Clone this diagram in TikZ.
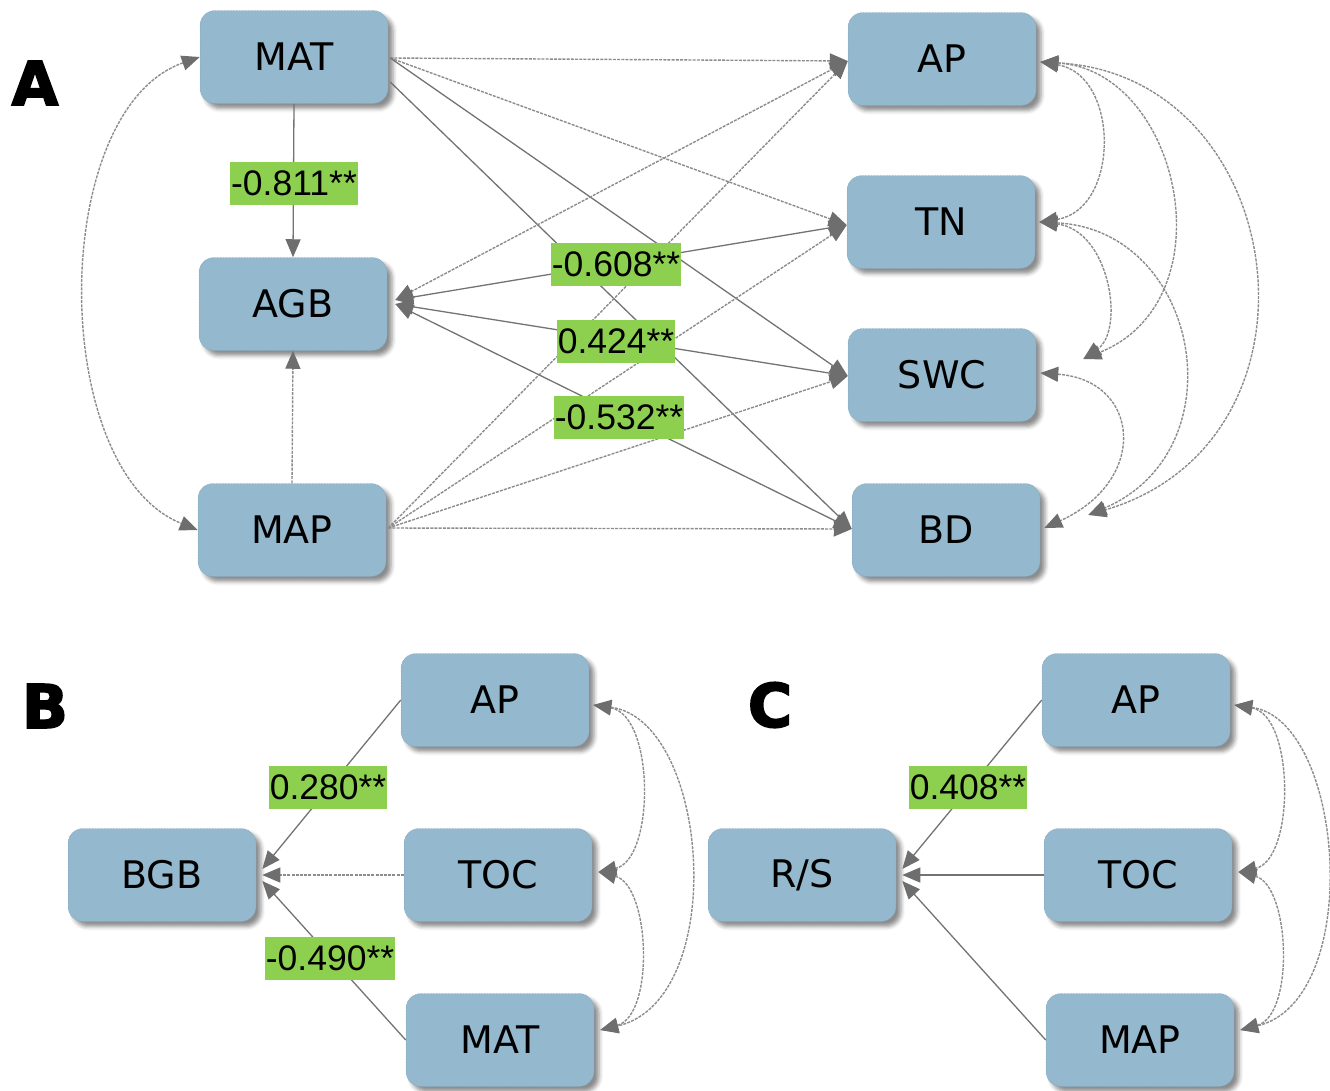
\documentclass[tikz,border=0pt]{standalone}
\usepackage{fontspec}
\setmainfont{DejaVu Sans}
\newfontfamily\lblfont{Liberation Sans}
\newfontfamily\heavyfont[FakeBold=3]{DejaVu Sans Bold}
\usetikzlibrary{arrows.meta,shadows.blur,calc}
\definecolor{boxc}{RGB}{148,184,205}
\definecolor{boxd}{RGB}{120,155,178}
\definecolor{grn}{RGB}{141,208,80}
\definecolor{lnc}{RGB}{115,115,115}
\definecolor{dlc}{RGB}{140,140,140}
\definecolor{tipc}{RGB}{110,110,110}
\tikzset{
  box/.style={rounded corners=15pt, fill=boxc, draw=boxd, densely dotted, line width=0.5pt,
    minimum width=188pt, minimum height=93pt, inner sep=0pt,
    font=\fontsize{38}{42}\selectfont,
    blur shadow={shadow xshift=5pt, shadow yshift=-5pt, shadow blur radius=4pt, shadow opacity=45}},
  lbl/.style={fill=grn, font=\lblfont\fontsize{35.5}{38}\selectfont, inner xsep=1pt, inner ysep=0pt, minimum height=43pt},
  panel/.style={font=\heavyfont\fontsize{60}{60}\selectfont, inner sep=0pt},
  sl/.style={draw=lnc, line width=1.3pt},
  dl/.style={draw=dlc, line width=1.4pt, dash pattern=on 3pt off 1.2pt},
  >={Triangle[length=18pt,width=15pt,color=tipc]}
}
\begin{document}
\begin{tikzpicture}[x=1pt,y=-1pt]
\useasboundingbox (0,0) rectangle (1330,1090);
% ---------------- Panel A ----------------
\node[panel] (LA) at (35,83) {A};
\node[box] (MAT) at (294,57) {MAT};
\node[box] (AGB) at (293,304) {AGB};
\node[box] (MAP) at (292,530) {MAP};
\node[box] (AP) at (942,59) {AP};
\node[box] (TN) at (941,222) {TN};
\node[box] (SWC) at (942,375) {SWC};
\node[box] (BD) at (946,530) {BD};

\coordinate (matR) at ($(MAT.east)+(2,1)$);
\coordinate (matR2) at ($(MAT.east)+(2,25)$);
\coordinate (mapR) at ($(MAP.east)+(2,-2)$);
\coordinate (agbR) at ($(AGB.east)+(8,-4)$);
\coordinate (agbR2) at ($(AGB.east)+(8,0)$);
\coordinate (apL) at ($(AP.west)+(0,2)$);
\coordinate (tnL) at ($(TN.west)+(0,3)$);
\coordinate (swcL) at ($(SWC.west)+(0,1)$);
\coordinate (bdL) at ($(BD.west)+(0,-1)$);
\coordinate (apR) at ($(AP.east)+(4,3)$);
\coordinate (tnR) at ($(TN.east)+(4,0)$);
\coordinate (swcR) at ($(SWC.east)+(4,-2)$);
\coordinate (swcR2) at ($(SWC.east)+(47,-16)$);
\coordinate (bdR) at ($(BD.east)+(4,-2)$);
\coordinate (bdR2) at ($(BD.east)+(48,-15)$);

% MAT paths
\draw[dl,->] (matR) -- (apL);
\draw[dl,->] (matR) -- (tnL);
\draw[sl,->] (matR) -- (swcL);
\draw[sl,->] (matR2) -- (bdL);
% MAP paths
\draw[dl,->] (mapR) -- (apL);
\draw[dl,->] (mapR) -- (tnL);
\draw[dl,->] (mapR) -- (swcL);
\draw[dl,->] (mapR) -- (bdL);
% AGB paths
\draw[dl,<->] (agbR) -- (apL);
\draw[sl,<->] (agbR) -- (tnL);
\draw[sl,<->] (agbR2) -- (swcL);
\draw[sl,<->] (agbR2) -- (bdL);
% vertical
\draw[sl,->] (MAT.south) -- (AGB.north);
\draw[dl,->] (MAP.north) -- (AGB.south);
% left covariance
\draw[dl,<->] (MAT.west) .. controls (48,110) and (48,470) .. (MAP.west);
% right covariances
\draw[dl,<->] (apR) .. controls (1120,75) and (1120,210) .. (tnR);
\draw[dl,<->] (apR) .. controls (1180,70) and (1230,300) .. (swcR2);
\draw[dl,<->] (apR) .. controls (1290,75) and (1340,440) .. (bdR2);
\draw[dl,<->] (tnR) .. controls (1110,230) and (1125,330) .. (swcR2);
\draw[dl,<->] (tnR) .. controls (1200,230) and (1240,450) .. (bdR2);
\draw[dl,<->] (swcR) .. controls (1140,380) and (1150,480) .. (bdR);

\node[lbl] (l1) at (294,183) {-0.811**};
\node[lbl] (l2) at (616,264) {-0.608**};
\node[lbl] (l3) at (616,341) {0.424**};
\node[lbl] (l4) at (619,417) {-0.532**};

% ---------------- Panel B ----------------
\node[panel] (LB) at (45,706) {B};
\node[box] (BGB) at (162,875) {BGB};
\node[box] (APb) at (495,700) {AP};
\node[box] (TOCb) at (498,875) {TOC};
\node[box] (MATb) at (500,1040) {MAT};
\coordinate (bgb1) at ($(BGB.east)+(6,-6)$);
\coordinate (bgb2) at ($(BGB.east)+(6,0)$);
\coordinate (bgb3) at ($(BGB.east)+(6,6)$);
\draw[sl,->] (APb.west) -- (bgb1);
\draw[dl,->] (TOCb.west) -- (bgb2);
\draw[sl,->] (MATb.west) -- (bgb3);
\coordinate (apbR) at ($(APb.east)+(4,5)$);
\coordinate (tocbR) at ($(TOCb.east)+(6,-3)$);
\coordinate (matbR) at ($(MATb.east)+(6,-10)$);
\draw[dl,<->] (apbR) .. controls (655,715) and (655,860) .. (tocbR);
\draw[dl,<->] (apbR) .. controls (710,720) and (730,1000) .. (matbR);
\draw[dl,<->] (tocbR) .. controls (650,885) and (655,1015) .. (matbR);
\node[lbl] (l5) at (328,787) {0.280**};
\node[lbl] (l6) at (330,958) {-0.490**};

% ---------------- Panel C ----------------
\node[panel] (LC) at (770,705) {C};
\node[box] (RS) at (802,875) {R/S};
\node[box] (APc) at (1136,700) {AP};
\node[box] (TOCc) at (1138,875) {TOC};
\node[box] (MAPc) at (1140,1040) {MAP};
\coordinate (rs1) at ($(RS.east)+(6,-6)$);
\coordinate (rs2) at ($(RS.east)+(6,0)$);
\coordinate (rs3) at ($(RS.east)+(6,6)$);
\draw[sl,->] (APc.west) -- (rs1);
\draw[sl,->] (TOCc.west) -- (rs2);
\draw[sl,->] (MAPc.west) -- (rs3);
\coordinate (apcR) at ($(APc.east)+(4,5)$);
\coordinate (toccR) at ($(TOCc.east)+(6,-3)$);
\coordinate (mapcR) at ($(MAPc.east)+(6,-10)$);
\draw[dl,<->] (apcR) .. controls (1295,715) and (1295,860) .. (toccR);
\draw[dl,<->] (apcR) .. controls (1345,720) and (1365,1000) .. (mapcR);
\draw[dl,<->] (toccR) .. controls (1290,885) and (1295,1015) .. (mapcR);
\node[lbl] (l7) at (968,787) {0.408**};
\end{tikzpicture}
\end{document}
